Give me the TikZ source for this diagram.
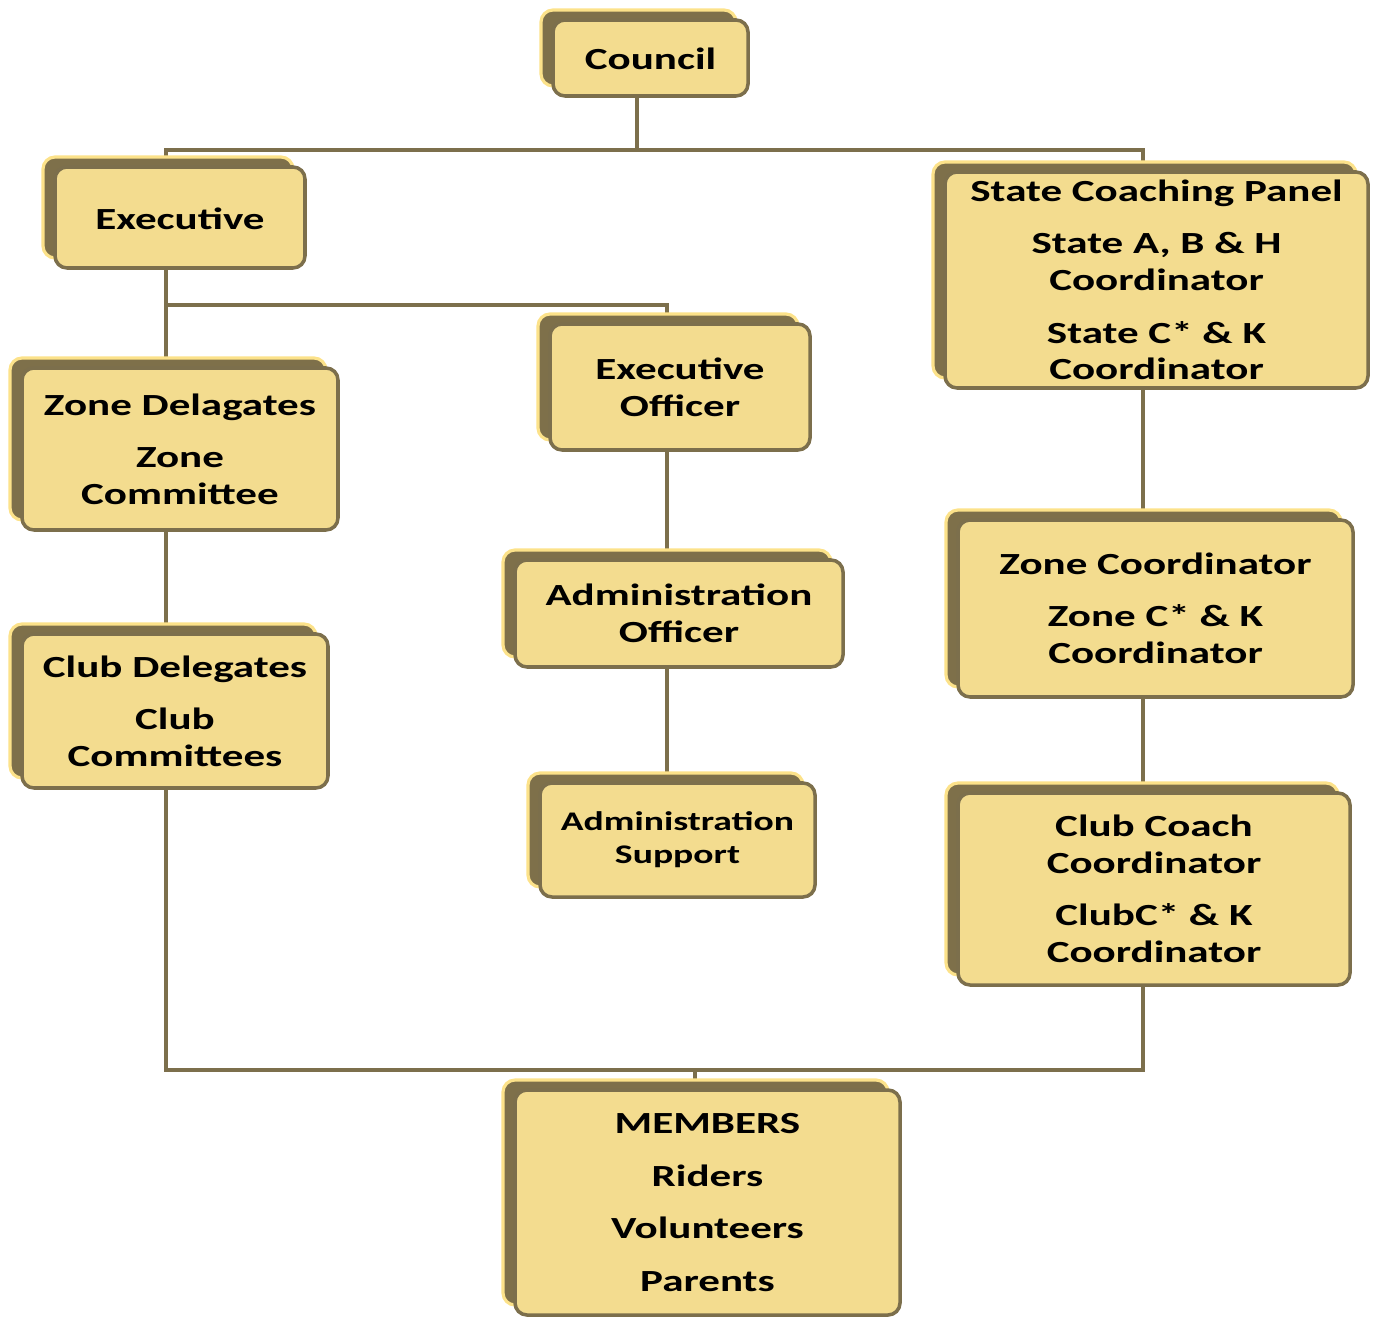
\documentclass[tikz,border=0pt]{standalone}
\usepackage{fontspec}
\setmainfont{Carlito}[FakeStretch=1.40]
\usetikzlibrary{calc}
\usetikzlibrary{fit}
\usetikzlibrary{shadows}
\usetikzlibrary{backgrounds}

\definecolor{boxfill}{RGB}{243,220,143}
\definecolor{boxedge}{RGB}{124,111,76}
\definecolor{shadowfill}{RGB}{126,112,74}
\definecolor{shadowrim}{RGB}{252,226,138}

\tikzset{
  unit/.style={draw=boxedge, fill=boxfill, line width=2pt, rounded corners=0.24cm,
    inner sep=0pt,
    copy shadow={shadow xshift=-0.24cm, shadow yshift=0.2cm, fill=shadowfill,
      draw=shadowrim, line width=1.8pt}},
  caption/.style={align=center, inner sep=0pt, font=\bfseries\fontsize{17.5}{21}\selectfont},
  smalltext/.style={font=\bfseries\fontsize{15.3}{18.8}\selectfont},
  link/.style={draw=boxedge, line width=2.2pt}
}

\begin{document}
\begin{tikzpicture}[x=0.02cm, y=-0.02cm]
            \useasboundingbox (0,0) rectangle (1375,1317);
            \def\gap{8.8pt}

            % Top of the tree
            \node[unit, fit={(553,20) (748,96)}] (council) {};
            \node[caption] (councilText) at ($(council.center)+(0,1)$) {Council};
            \node[unit, fit={(55,167) (305,268)}] (executive) {};
            \node[caption] (executiveText) at ($(executive.center)+(0,1)$) {Executive};
            \node[unit, fit={(945,172) (1368,388)}] (state) {};
            \node[caption] (stateText) at ($(state.center)+(0,0)$) {State Coaching Panel\\[\gap]
                State A, B \& H\\Coordinator\\[\gap]State C* \& K\\Coordinator};

            % Left column
            \node[unit, fit={(22,368) (338,530)}] (zonedel) {};
            \node[caption] (zonedelText) at ($(zonedel.center)+(0,0)$) {Zone Delagates\\[\gap]Zone\\Committee};
            \node[unit, fit={(22,634) (328,788)}] (clubdel) {};
            \node[caption] (clubdelText) at ($(clubdel.center)+(0,0)$) {Club Delegates\\[\gap]Club\\Committees};

            % Middle column
            \node[unit, fit={(550,324) (810,450)}] (execofficer) {};
            \node[caption] (execofficerText) at ($(execofficer.center)+(0,0)$) {Executive\\Officer};
            \node[unit, fit={(515,560) (843,667)}] (adminofficer) {};
            \node[caption] (adminofficerText) at ($(adminofficer.center)+(0,0)$) {Administration\\Officer};
            \node[unit, fit={(540,783) (815,897)}] (adminsupport) {};
            \node[caption, smalltext] (adminsupportText) at ($(adminsupport.center)+(0,0)$) {Administration\\Support};

            % Right column
            \node[unit, fit={(958,520) (1353,697)}] (zonecoord) {};
            \node[caption] (zonecoordText) at ($(zonecoord.center)+(0,0)$) {Zone Coordinator\\[\gap]
                Zone C* \& K\\Coordinator};
            \node[unit, fit={(958,793) (1350,985)}] (clubcoach) {};
            \node[caption] (clubcoachText) at ($(clubcoach.center)+(0,0)$) {Club Coach\\Coordinator\\[\gap]
                ClubC* \& K\\Coordinator};

            % Bottom
            \node[unit, fit={(515,1090) (900,1315)}] (members) {};
            \node[caption] (membersText) at ($(members.center)+(0,0)$) {MEMBERS\\[\gap]Riders\\[\gap]
                Volunteers\\[\gap]Parents};

            % Connectors
            \coordinate (lx) at (166,0);
            \coordinate (mx) at (667,0);
            \coordinate (rx) at (1143,0);
            \coordinate (split) at (637,150);
            \coordinate (execsplit) at (166,305);
            \coordinate (join) at (695,1070);
            \begin{scope}[on background layer]
            \draw[link] (council.south -| split) -- (split) -| (executive.north -| lx);
            \draw[link] (split) -| (state.north -| rx);
            \draw[link] (executive.south -| lx) -- (zonedel.north -| lx);
            \draw[link] (execsplit) -| (execofficer.north -| mx);
            \draw[link] (execofficer.south -| mx) -- (adminofficer.north -| mx);
            \draw[link] (adminofficer.south -| mx) -- (adminsupport.north -| mx);
            \draw[link] (zonedel.south -| lx) -- (clubdel.north -| lx);
            \draw[link] (state.south -| rx) -- (zonecoord.north -| rx);
            \draw[link] (zonecoord.south -| rx) -- (clubcoach.north -| rx);
            \draw[link] (clubdel.south -| lx) |- (join);
            \draw[link] (clubcoach.south -| rx) |- (join);
            \draw[link] (join) -- (members.north -| join);
            \end{scope}
        \end{tikzpicture}
\end{document}
